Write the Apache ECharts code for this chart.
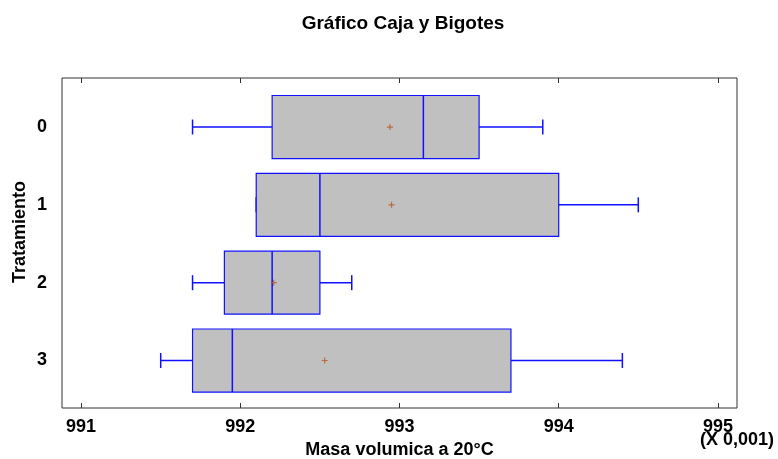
<!DOCTYPE html>
<html>
<head>
<meta charset="utf-8">
<script src="https://cdn.jsdelivr.net/npm/echarts@6/dist/echarts.min.js"></script>
<style>
  html, body { margin: 0; padding: 0; background: #fff; }
  #chart { width: 778px; height: 459px; }
</style>
</head>
<body>
<div id="chart"></div>
<script>
// datos del gráfico de caja y bigotes
var categories = ['0', '1', '2', '3'];
var whiskerLow = [991.7, 992.1, 991.7, 991.5];
var q1 = [992.2, 992.1, 991.9, 991.7];
var median = [993.15, 992.5, 992.2, 991.95];
var q3 = [993.5, 994.0, 992.5, 993.7];
var whiskerHigh = [993.9, 994.5, 992.7, 994.4];
var means = [992.94, 992.95, 992.21, 992.53];
var xTicks = [991, 992, 993, 994, 995];

var fontFam = '"Liberation Sans", Arial, sans-serif';
var boxData = categories.map(function (c, i) {
  return [i, whiskerLow[i], q1[i], median[i], q3[i], whiskerHigh[i]];
});
var meanData = categories.map(function (c, i) {
  return [means[i], i];
});

function renderBox(params, api) {
  var y = api.value(0);
  var pLow = api.coord([api.value(1), y]);
  var pQ1 = api.coord([api.value(2), y]);
  var pMed = api.coord([api.value(3), y]);
  var pQ3 = api.coord([api.value(4), y]);
  var pHigh = api.coord([api.value(5), y]);
  var cy = pQ1[1];
  var h = api.size([0, 1])[1] * 0.405;
  var cap = 7.5;
  var blue = '#1010ff';
  return {
    type: 'group',
    children: [
      { type: 'line', shape: { x1: pLow[0], y1: cy, x2: pQ1[0], y2: cy }, style: { stroke: blue, lineWidth: 1.5 } },
      { type: 'line', shape: { x1: pQ3[0], y1: cy, x2: pHigh[0], y2: cy }, style: { stroke: blue, lineWidth: 1.5 } },
      { type: 'line', shape: { x1: pLow[0], y1: cy - cap, x2: pLow[0], y2: cy + cap }, style: { stroke: blue, lineWidth: 1.5 } },
      { type: 'line', shape: { x1: pHigh[0], y1: cy - cap, x2: pHigh[0], y2: cy + cap }, style: { stroke: blue, lineWidth: 1.5 } },
      { type: 'rect', shape: { x: pQ1[0], y: cy - h, width: pQ3[0] - pQ1[0], height: 2 * h }, style: { fill: '#c0c0c0', stroke: blue, lineWidth: 1.2 } },
      { type: 'line', shape: { x1: pMed[0], y1: cy - h, x2: pMed[0], y2: cy + h }, style: { stroke: blue, lineWidth: 1.5 } }
    ]
  };
}

var xAxisBase = {
  type: 'value',
  min: 990.88,
  max: 995.12,
  axisLine: { show: false, onZero: false },
  splitLine: { show: false },
  axisTick: { show: true, inside: true, length: 5, customValues: xTicks, lineStyle: { color: '#333' } }
};

var chart = echarts.init(document.getElementById('chart'));
chart.setOption({
  animation: false,
  title: {
    text: 'Gráfico Caja y Bigotes',
    left: 398,
    top: 9,
    textAlign: 'center',
    textStyle: { fontFamily: fontFam, fontSize: 19, fontWeight: 'bold', color: '#000' }
  },
  grid: {
    left: 62, right: 41, top: 78, bottom: 51,
    containLabel: false, outerBoundsMode: 'none',
    show: true, borderColor: '#333', borderWidth: 1
  },
  xAxis: [
    Object.assign({}, xAxisBase, {
      position: 'bottom',
      name: 'Masa volumica a 20°C',
      nameLocation: 'middle',
      nameGap: 31,
      nameTextStyle: { fontFamily: fontFam, fontSize: 18, fontWeight: 'bold', color: '#000' },
      axisLabel: {
        customValues: xTicks,
        margin: 10,
        fontFamily: fontFam, fontSize: 18, fontWeight: 'bold', color: '#000',
        formatter: function (v) { return String(v); }
      }
    }),
    Object.assign({}, xAxisBase, {
      position: 'top',
      axisLabel: { show: false }
    })
  ],
  yAxis: {
    type: 'value',
    inverse: true,
    min: -0.63,
    max: 3.61,
    axisLine: { show: false, onZero: false },
    axisTick: { show: false },
    splitLine: { show: false },
    axisLabel: {
      customValues: [0, 1, 2, 3],
      margin: 15,
      fontFamily: fontFam, fontSize: 18, fontWeight: 'bold', color: '#000',
      formatter: function (v) { return categories[Math.round(v)]; }
    }
  },
  graphic: [
    {
      type: 'text',
      x: 20, y: 232,
      rotation: Math.PI / 2,
      style: { text: 'Tratamiento', fontFamily: fontFam, fontSize: 18, fontWeight: 'bold', fill: '#000', align: 'center', verticalAlign: 'middle' }
    },
    {
      type: 'text',
      right: 4, top: 431,
      style: { text: '(X 0,001)', fontFamily: fontFam, fontSize: 18, fontWeight: 'bold', fill: '#000' }
    }
  ],
  series: [
    {
      type: 'custom',
      renderItem: renderBox,
      encode: { x: [1, 2, 3, 4, 5], y: 0 },
      data: boxData,
      z: 2
    },
    {
      type: 'scatter',
      symbol: 'path://M2,0H3V2H5V3H3V5H2V3H0V2H2Z',
      symbolSize: 6,
      itemStyle: { color: '#b5561d' },
      data: meanData,
      z: 3
    }
  ]
});
</script>
</body>
</html>
